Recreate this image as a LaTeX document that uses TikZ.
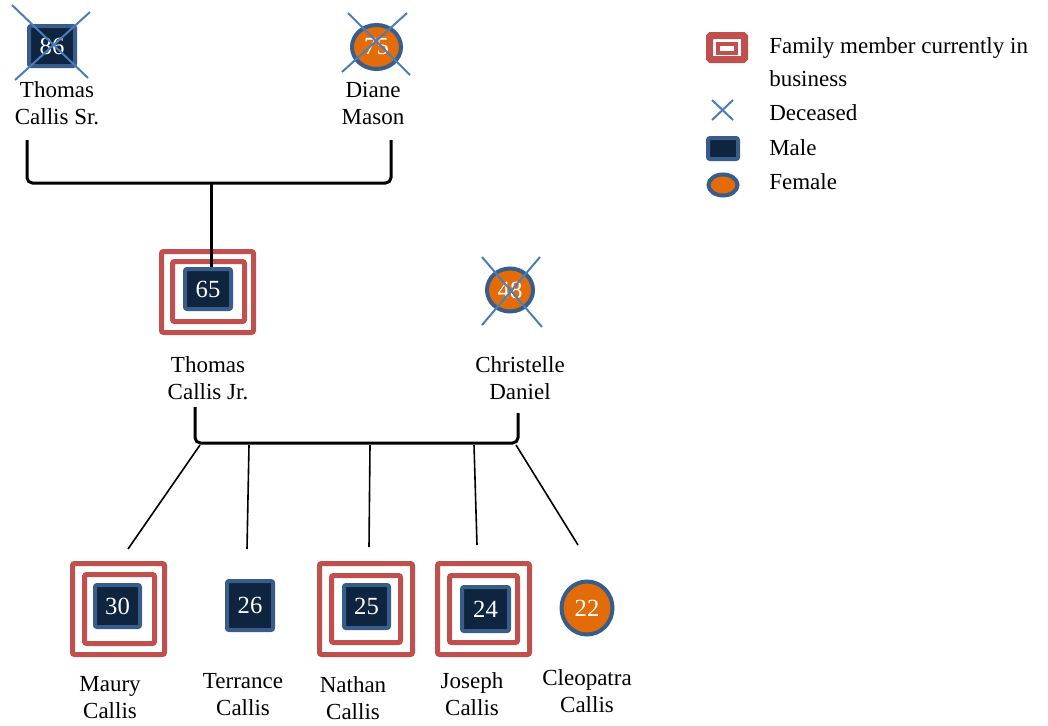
\documentclass[tikz,border=0pt]{standalone}
\usepackage{fontspec}
\setmainfont{Liberation Serif}
\usetikzlibrary{shapes.geometric}
\definecolor{framered}{HTML}{C0504D}
\definecolor{mblue}{HTML}{385D8A}
\definecolor{mnavy}{HTML}{0F243E}
\definecolor{forange}{HTML}{E36C09}
\definecolor{xblue}{HTML}{4A7EBB}
\begin{document}
\begin{tikzpicture}[x=0.75pt,y=-0.75pt,
  lbl/.style={align=center, font=\fontsize{17.25}{20.25}\selectfont, inner sep=0pt},
  leg/.style={anchor=west, align=left, font=\fontsize{17.25}{20.25}\selectfont, inner sep=0pt},
  male/.style={rectangle, draw=mblue, fill=mnavy, line width=3pt, rounded corners=1.5pt, inner sep=0pt, text=white, font=\fontsize{18.5}{20}\selectfont},
  female/.style={ellipse, draw=mblue, fill=forange, line width=3pt, inner sep=0pt, text=white, font=\fontsize{18.5}{20}\selectfont},
  bizframe/.style={rectangle, draw=framered, line width=3.75pt, rounded corners=1.5pt, inner sep=0pt},
  xmark/.style={draw=xblue, line width=1.5pt},
  bracket/.style={draw=black, line width=2.25pt, rounded corners=4pt},
  kid/.style={draw=black, line width=1.2pt},
]
\useasboundingbox (0,0) rectangle (1048,725);

% ---------- generation 1 ----------
\node[male, minimum width=34.5pt, minimum height=30pt] (ts) at (52,46) {86};
\node[lbl] (tsl) at (57,103.5) {Thomas\\Callis Sr.};
\node[female, minimum width=36.75pt, minimum height=33pt] (dm) at (376.5,47) {75};
\node[lbl] (dml) at (373,103.5) {Diane\\Mason};
\draw[xmark] ([shift={(-40,-41)}]ts.center) -- ([shift={(36,32)}]ts.center);
\draw[xmark] ([shift={(38,-34)}]ts.center) -- ([shift={(-37,34)}]ts.center);
\draw[xmark] ([shift={(-28.5,-34)}]dm.center) -- ([shift={(33.5,28)}]dm.center);
\draw[xmark] ([shift={(30.5,-34)}]dm.center) -- ([shift={(-34.5,25)}]dm.center);

% ---------- generation 2 ----------
\node[bizframe, minimum width=69pt, minimum height=60.75pt] (tjo) at (207.5,292) {};
\node[bizframe, minimum width=54pt, minimum height=45pt] (tji) at (208.5,291.5) {};
\node[male, minimum width=34.5pt, minimum height=30pt] (tj) at (208,289) {65};
\node[lbl] (tjl) at (208,378) {Thomas\\Callis Jr.};
\node[female, minimum width=34.5pt, minimum height=32.25pt] (cd) at (510,290) {48};
\node[lbl] (cdl) at (520,378) {Christelle\\Daniel};
\draw[xmark] ([shift={(-28,-33)}]cd.center) -- ([shift={(32,37)}]cd.center);
\draw[xmark] ([shift={(30,-33)}]cd.center) -- ([shift={(-28,35)}]cd.center);

% top bracket
\coordinate (b1l) at (27,140);
\coordinate (b1r) at (391,140);
\coordinate (b1m) at (211,183);
\draw[bracket] (b1l) |- (b1m) -| (b1r);
\draw[draw=black, line width=2.25pt] (b1m) -- (b1m |- tj.north);

% ---------- generation 3 ----------
\node[bizframe, minimum width=69pt, minimum height=68.25pt] (mco) at (118.5,609) {};
\node[bizframe, minimum width=52.5pt, minimum height=51.75pt] (mci) at (119.5,609) {};
\node[male, minimum width=33.75pt, minimum height=31.5pt] (mc) at (117.5,606) {30};
\node[lbl] (mcl) at (110,697.5) {Maury\\Callis};

\node[male, minimum width=34.5pt, minimum height=36.75pt] (tc) at (250,605.5) {26};
\node[lbl] (tcl) at (243,695) {Terrance\\Callis};

\node[bizframe, minimum width=69.75pt, minimum height=68.25pt] (nco) at (366,609) {};
\node[bizframe, minimum width=51.75pt, minimum height=50.25pt] (nci) at (366,609) {};
\node[male, minimum width=33.75pt, minimum height=32.25pt] (nc) at (366.5,606.5) {25};
\node[lbl] (ncl) at (353,698) {Nathan\\Callis};

\node[bizframe, minimum width=69pt, minimum height=68.25pt] (jco) at (483.5,609) {};
\node[bizframe, minimum width=51pt, minimum height=50.25pt] (jci) at (483.5,609) {};
\node[male, minimum width=35.25pt, minimum height=33pt] (jc) at (485.5,609) {24};
\node[lbl] (jcl) at (472,694.5) {Joseph\\Callis};

\node[female, minimum width=38.25pt, minimum height=39.75pt] (cc) at (587,608) {22};
\node[lbl] (ccl) at (587,691.5) {Cleopatra\\Callis};

% second bracket
\coordinate (b2l) at (195,407);
\coordinate (b2r) at (518,413);
\coordinate (b2m) at (357,443);
\draw[bracket] (b2l) |- (b2m) -| (b2r);

\coordinate (k1) at (200,445);  \coordinate (e1) at (128,549);
\coordinate (k2) at (249,445);  \coordinate (e2) at (247,549);
\coordinate (k3) at (370,445);  \coordinate (e3) at (369,547);
\coordinate (k4) at (474,445);  \coordinate (e4) at (477,545);
\coordinate (k5) at (516,445);  \coordinate (e5) at (578,545);
\draw[kid] (k1) -- (e1);
\draw[kid] (k2) -- (e2);
\draw[kid] (k3) -- (e3);
\draw[kid] (k4) -- (e4);
\draw[kid] (k5) -- (e5);

% ---------- legend ----------
\node[rectangle, draw=framered, line width=5.25pt, rounded corners=1pt, minimum width=26.25pt, minimum height=18pt, inner sep=0pt] (lgb) at (727,47.5) {};
\node[rectangle, draw=framered, line width=3pt, minimum width=13.5pt, minimum height=6.75pt, inner sep=0pt] (lgbi) at (727,48.5) {};
\node[leg] (lgbt) at (769,62) {Family member currently in\\[4.5pt]business};
\coordinate (lgx) at (722.5,110);
\draw[xmark] ([shift={(-10.5,-10)}]lgx) -- ([shift={(10.5,10)}]lgx);
\draw[xmark] ([shift={(10.5,-10)}]lgx) -- ([shift={(-10.5,10)}]lgx);
\node[leg] (lgxt) at (769,113) {Deceased};
\node[male, minimum width=22.5pt, minimum height=15.75pt] (lgm) at (723,148.5) {};
\node[leg] (lgmt) at (769,148) {Male};
\node[female, minimum width=21.75pt, minimum height=15.75pt] (lgf) at (723,185) {};
\node[leg] (lgft) at (769,182) {Female};
\end{tikzpicture}
\end{document}
